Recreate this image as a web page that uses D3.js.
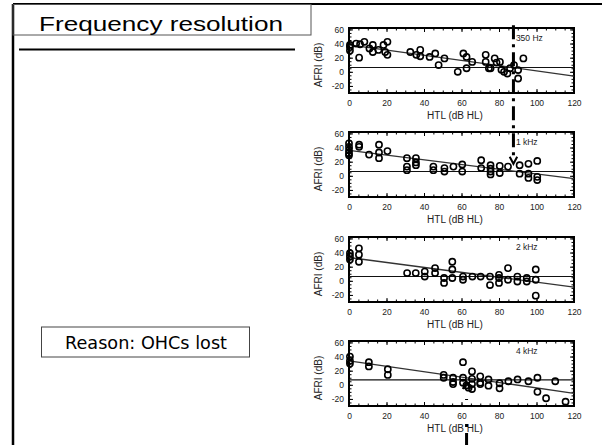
<!DOCTYPE html>
<html>
<head>
<meta charset="utf-8">
<script src="https://cdn.jsdelivr.net/npm/d3@7"></script>
<style>
body{margin:0;background:#fff;}
svg{display:block;}
text{font-family:'Liberation Sans',Arial,sans-serif;}
</style>
</head>
<body>
<svg id="chart"></svg>
<script>
var svgWidth = 602;
var svgHeight = 445;

// 350 Hz
var htl350 = [0.5,0.5,0.5,3.8,5.9,5.4,8.2,10.9,12.7,12.7,15.7,18.4,19.3,20.5,20.5,32.7,35.9,38,38,43,46,47.8,50.9,58,61,62.7,62.7,65.7,72.9,72.9,74.6,75.5,77.7,78.7,80.5,81.3,82.7,84.5,85.9,88,90.2,90.2,93];
var afri350 = [30,35,38,40,39,20,42.5,33,38,28,31,38,28,42.5,24,28,24,31,22,21,26,9.5,19,0,26,21,5,14,24,14,5,5,19,13,14,3,0,-2.5,5,9.5,2.5,-9.5,19];
// 1 kHz
var htl1k = [0,0,0,0,0,5.4,5.4,10.7,16,16,16,20.5,30.9,30.9,30.9,35.7,35.7,35.7,45,45,50.9,50.9,55.7,60.4,60.4,70.5,70.5,75.5,75.5,75.5,75.5,80.4,80.4,84.8,91,91,95.7,95.7,95.7,100.4,100.4,100.4];
var afri1k = [46,41,36,32,29,44,41,30,44,33,25,35,25,13,8,25,19,15,13,8,11,6,13,16,6,22,11,15,10,6,2,14,4,13,15,3,17,3,-3,21,-1.5,-6];
// 2 kHz
var htl2k = [0.5,0.5,0.5,5.3,5.3,5.3,31,35.6,40.4,40.4,45.9,45.9,50.7,50.7,55.1,55.1,55.1,60.8,60.8,65.8,70.2,75.2,75.2,80,80,80,84.8,84.8,89.8,89.8,94.8,94.8,99.6,99.6,99.6];
var afri2k = [39,34.5,30,46,37,27,11,11,13,6,18,11,4,-3,27,16,4,6,1.5,6,6,6,-6,8.5,4,-3,18,1.5,6,-1,4,-1,16,1.5,-21];
// 4 kHz
var htl4k = [0.5,0.5,0.5,10.6,10.6,20.7,20.7,50.5,50.5,55.5,55.5,55.5,60.8,60.8,60.8,62.6,63.8,65.6,65.6,65.6,65.6,70,70,70,74.4,74.4,80.3,80.3,85,89.9,95.7,100.5,100.5,105.1,110,115.5];
var afri4k = [40,34,30,32,26,22,14,14,10,10,4,1,32,10,3,-1,-4,19,8.5,1,-6,12,3,1,7.6,-1.3,2.2,-5,5,7.6,5,10,-10,-19,5,-24];

var panelLabels = ['350 Hz','1 kHz','2 kHz','4 kHz'];
var fitStart = [38,36,33,34];
var fitEnd = [-6,-4,-9,-12];
var refLevel = [6,6,6,7];
var xTicks = [0,20,40,60,80,100,120];
var yTicks = [-20,0,20,40,60];
var xMinor = d3.range(0,121,5);
var yMinor = d3.range(-30,63,5);

// edge markers (dash-dot lines)
var edge350 = 87.7;
var edge4k = 62.7;

var panels = [
  {htl:htl350, afri:afri350},
  {htl:htl1k, afri:afri1k},
  {htl:htl2k, afri:afri2k},
  {htl:htl4k, afri:afri4k}
];

var plotLeft = 349, plotRight = 574, plotH = 65;
var panelTops = [28,132,237,341];

var svg = d3.select('#chart').attr('width',svgWidth).attr('height',svgHeight);

// slide frame
svg.append('line').attr('x1',13).attr('y1',4).attr('x2',602).attr('y2',4)
   .attr('stroke','#000').attr('stroke-width',2);
svg.append('line').attr('x1',13).attr('y1',4).attr('x2',13).attr('y2',445)
   .attr('stroke','#000').attr('stroke-width',2.5);
svg.append('rect').attr('x',13).attr('y',4.5).attr('width',298).attr('height',30.5)
   .attr('fill','none').attr('stroke','#555').attr('stroke-width',1);
svg.append('text').text('Frequency resolution')
   .attr('x',161).attr('y',31).attr('text-anchor','middle')
   .attr('font-size',20).attr('textLength',244).attr('lengthAdjust','spacingAndGlyphs')
   .attr('fill','#000');
svg.append('line').attr('x1',19).attr('y1',49.5).attr('x2',295).attr('y2',49.5)
   .attr('stroke','#000').attr('stroke-width',2);

svg.append('rect').attr('x',41.5).attr('y',327).attr('width',208).attr('height',30)
   .attr('fill','#fff').attr('stroke','#444').attr('stroke-width',1);
svg.append('text').text('Reason: OHCs lost')
   .attr('x',146).attr('y',349).attr('text-anchor','middle')
   .style('font-family','"DejaVu Sans",Tahoma,sans-serif')
   .attr('font-size',17).attr('textLength',162).attr('lengthAdjust','spacingAndGlyphs')
   .attr('fill','#000');

var xScale = d3.scaleLinear().domain([0,120]).range([plotLeft,plotRight]);
var yScales = [];

function styleAxis(g){
  g.select('.domain').remove();
  g.selectAll('line').attr('stroke','#000');
  g.selectAll('text').attr('font-size',8.5).attr('fill','#222')
   .style('font-family',"'Liberation Sans',Arial,sans-serif");
}

panels.forEach(function(p,i){
  var top = panelTops[i];
  var yScale = d3.scaleLinear().domain([-30,62]).range([top+plotH, top]);
  yScales.push(yScale);
  var g = svg.append('g').attr('class','panel');

  // axes, ticks pointing inward on all four sides
  g.append('g').attr('transform','translate('+plotLeft+',0)')
   .call(d3.axisLeft(yScale).tickValues(yTicks).tickSize(-4).tickPadding(5).tickFormat(function(d){return String(d);}))
   .call(styleAxis);
  g.append('g').attr('transform','translate('+plotLeft+',0)')
   .call(d3.axisLeft(yScale).tickValues(yMinor).tickSize(-2.5).tickFormat(''))
   .call(styleAxis);
  g.append('g').attr('transform','translate('+plotRight+',0)')
   .call(d3.axisRight(yScale).tickValues(yTicks).tickSize(-4).tickFormat(''))
   .call(styleAxis);
  g.append('g').attr('transform','translate('+plotRight+',0)')
   .call(d3.axisRight(yScale).tickValues(yMinor).tickSize(-2.5).tickFormat(''))
   .call(styleAxis);
  g.append('g').attr('transform','translate(0,'+(top+plotH)+')')
   .call(d3.axisBottom(xScale).tickValues(xTicks).tickSize(-4).tickPadding(7).tickFormat(function(d){return String(d);}))
   .call(styleAxis);
  g.append('g').attr('transform','translate(0,'+(top+plotH)+')')
   .call(d3.axisBottom(xScale).tickValues(xMinor).tickSize(-2.5).tickFormat(''))
   .call(styleAxis);
  g.append('g').attr('transform','translate(0,'+top+')')
   .call(d3.axisTop(xScale).tickValues(xTicks).tickSize(-4).tickFormat(''))
   .call(styleAxis);
  g.append('g').attr('transform','translate(0,'+top+')')
   .call(d3.axisTop(xScale).tickValues(xMinor).tickSize(-2.5).tickFormat(''))
   .call(styleAxis);

  g.append('rect')
   .attr('x',plotLeft).attr('y',top)
   .attr('width',plotRight-plotLeft).attr('height',plotH)
   .attr('fill','none').attr('stroke','#000').attr('stroke-width',2);

  // reference line and regression fit
  g.append('line')
   .attr('x1',xScale(0)).attr('x2',xScale(120))
   .attr('y1',yScale(refLevel[i])).attr('y2',yScale(refLevel[i]))
   .attr('stroke','#111').attr('stroke-width',1.1);
  g.append('line')
   .attr('x1',xScale(0)).attr('x2',xScale(120))
   .attr('y1',yScale(fitStart[i])).attr('y2',yScale(fitEnd[i]))
   .attr('stroke','#333').attr('stroke-width',1.3);

  g.selectAll('.dataPoint')
   .data(p.htl.map(function(h,k){return {htl:h, afri:p.afri[k]};}))
   .enter()
   .append('circle')
   .classed('dataPoint',true)
   .attr('cx',function(d){return xScale(d.htl);})
   .attr('cy',function(d){return yScale(d.afri);})
   .attr('r',3.1)
   .attr('fill','none').attr('stroke','#000').attr('stroke-width',1.6);

  g.append('text').text(panelLabels[i])
   .attr('x',xScale(89)).attr('y',yScale(44))
   .attr('font-size',8.5).attr('fill','#222');

  g.append('text').text('HTL (dB HL)')
   .attr('text-anchor','middle')
   .attr('x',455).attr('y',top+plotH+26)
   .attr('font-size',10).attr('fill','#222');
  g.append('text').text('AFRI (dB)')
   .attr('text-anchor','middle')
   .attr('transform','translate(322,'+(top+37)+')rotate(-90)')
   .attr('font-size',10).attr('fill','#222');
});

// dash-dot marker line at the 350 Hz edge, running into the 1 kHz panel
var ex = xScale(edge350);
svg.append('line')
   .attr('x1',ex).attr('x2',ex)
   .attr('y1',yScales[0](66)).attr('y2',yScales[1](28))
   .attr('stroke','#000').attr('stroke-width',3)
   .attr('stroke-dasharray','14,5,3,5');
svg.append('path')
   .attr('d','M'+xScale(edge350-2)+','+yScales[1](27)+'L'+ex+','+yScales[1](17)+'L'+xScale(edge350+2)+','+yScales[1](27))
   .attr('fill','none').attr('stroke','#000').attr('stroke-width',2);

// dash-dot marker at the 4 kHz edge, coming up from below
var ex4 = xScale(edge4k);
svg.append('line')
   .attr('x1',ex4).attr('x2',ex4)
   .attr('y1',445).attr('y2',yScales[3](-20))
   .attr('stroke','#000').attr('stroke-width',3)
   .attr('stroke-dasharray','12,6,3,24,3');
svg.append('path')
   .attr('d','M'+xScale(edge4k-2)+','+yScales[3](-6)+'L'+ex4+','+yScales[3](4)+'L'+xScale(edge4k+2)+','+yScales[3](-6))
   .attr('fill','none').attr('stroke','#000').attr('stroke-width',2);
</script>
</body>
</html>
